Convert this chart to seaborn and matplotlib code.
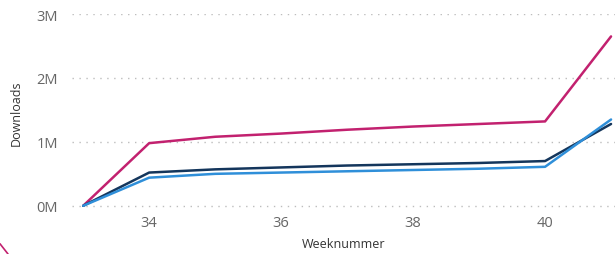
import pandas as pd
import matplotlib.pyplot as plt
import matplotlib.lines as mlines
import seaborn as sns

weeks = [33, 34, 35, 36, 37, 38, 39, 40, 41]
totaal = [0.0, 0.98, 1.08, 1.13, 1.19, 1.24, 1.28, 1.32, 2.65]
reeks_donker = [0.0, 0.52, 0.57, 0.60, 0.63, 0.65, 0.67, 0.70, 1.28]
reeks_licht = [0.0, 0.44, 0.50, 0.52, 0.54, 0.56, 0.58, 0.61, 1.35]

series_names = ['Totaal', 'Donker', 'Licht']
colors = ['#C2216F', '#14365C', '#2F8FD9']
y_ticks = [0, 1, 2, 3]
y_labels = ['0M', '1M', '2M', '3M']
x_ticks = [34, 36, 38, 40]

df = pd.DataFrame({
    'Weeknummer': weeks * 3,
    'Downloads': totaal + reeks_donker + reeks_licht,
    'reeks': [n for n in series_names for _ in weeks],
})

sns.set_style('white')
plt.rcParams['font.family'] = ['Open Sans', 'DejaVu Sans']

fig = plt.figure(figsize=(6.15, 2.55), dpi=100)
ax = fig.add_axes([0.117, 0.169, 0.883, 0.772])

sns.lineplot(data=df, x='Weeknummer', y='Downloads', hue='reeks',
             palette=dict(zip(series_names, colors)), linewidth=1.8,
             legend=False, ax=ax)

ax.set_xlim(32.83, 41.06)
ax.set_ylim(-0.08, 3.0)
ax.set_yticks(y_ticks)
ax.set_yticklabels(y_labels)
ax.set_xticks(x_ticks)
ax.yaxis.grid(True, linestyle=(0, (1, 4)), color='#BDBDBD', linewidth=1)
ax.set_axisbelow(True)
for s in ax.spines.values():
    s.set_visible(False)
ax.tick_params(axis='both', length=0, labelsize=10.5, colors='#666666')
ax.tick_params(axis='y', pad=10)
ax.tick_params(axis='x', pad=3)
ax.set_xlabel('Weeknummer', fontsize=9, color='#333333', labelpad=5)
ax.set_ylabel('Downloads', fontsize=9, color='#333333', labelpad=10)

# rand van decoratie linksonder
fig.add_artist(mlines.Line2D([0.0, 0.013], [0.04, 0.0], color='#C2216F',
                             linewidth=1.2, transform=fig.transFigure))

fig.savefig('out.png', dpi=100)
